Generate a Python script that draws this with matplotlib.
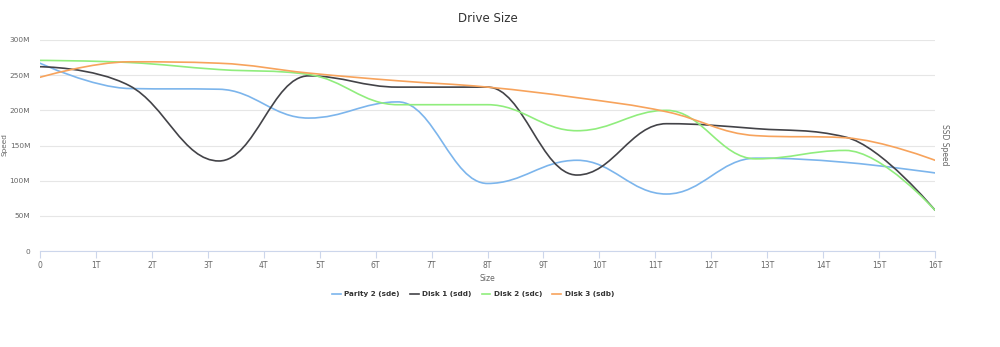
import numpy as np
import matplotlib.pyplot as plt
from matplotlib.path import Path
from matplotlib.patches import PathPatch
from matplotlib.lines import Line2D

# data (sizes in T, speeds in M)
size_t = [0, 1.6, 3.2, 4.8, 6.4, 8.0, 9.6, 11.2, 12.8, 14.4, 16.0]
parity2_sde = [267, 231, 230, 189, 212, 96, 129, 81, 132, 126, 111]
disk1_sdd = [262, 235, 128, 249, 233, 233, 108, 181, 174, 162, 58]
disk2_sdc = [271, 268, 258, 251, 208, 208, 171, 200, 131, 143, 58]
disk3_sdb = [247, 269, 267, 253, 242, 233, 218, 198, 164, 161, 129]

series_names = ['Parity 2 (sde)', 'Disk 1 (sdd)', 'Disk 2 (sdc)', 'Disk 3 (sdb)']
series_colors = ['#7cb5ec', '#434348', '#90ed7d', '#f7a35c']
x_ticks = list(range(17))
x_tick_labels = ['0'] + [f'{i}T' for i in range(1, 17)]
y_ticks = [0, 50, 100, 150, 200, 250, 300]
y_tick_labels = ['0', '50M', '100M', '150M', '200M', '250M', '300M']


def spline_path(xs, ys, smoothing=1.5):
    # highcharts-style spline: cubic bezier through every point
    n = len(xs)
    denom = smoothing + 1
    left = [(xs[i], ys[i]) for i in range(n)]
    right = [(xs[i], ys[i]) for i in range(n)]
    for i in range(1, n - 1):
        px, py = xs[i], ys[i]
        lx, ly = xs[i - 1], ys[i - 1]
        nx, ny = xs[i + 1], ys[i + 1]
        lcx = (smoothing * px + lx) / denom
        lcy = (smoothing * py + ly) / denom
        rcx = (smoothing * px + nx) / denom
        rcy = (smoothing * py + ny) / denom
        corr = (rcy - lcy) * (rcx - px) / (rcx - lcx) + py - rcy
        lcy += corr
        rcy += corr
        if lcy > ly and lcy > py:
            lcy = max(ly, py)
            rcy = 2 * py - lcy
        elif lcy < ly and lcy < py:
            lcy = min(ly, py)
            rcy = 2 * py - lcy
        if rcy > ny and rcy > py:
            rcy = max(ny, py)
            lcy = 2 * py - rcy
        elif rcy < ny and rcy < py:
            rcy = min(ny, py)
            lcy = 2 * py - rcy
        left[i] = (lcx, lcy)
        right[i] = (rcx, rcy)
    verts = [(xs[0], ys[0])]
    codes = [Path.MOVETO]
    for i in range(1, n):
        verts += [right[i - 1], left[i], (xs[i], ys[i])]
        codes += [Path.CURVE4] * 3
    return Path(verts, codes)


fig = plt.figure(figsize=(10, 3.47), dpi=100)
ax = fig.add_axes([0.04, 1 - 251 / 347, 0.895, 211 / 347])

all_series = [parity2_sde, disk1_sdd, disk2_sdc, disk3_sdb]
handles = []
for vals, name, col in zip(all_series, series_names, series_colors):
    patch = PathPatch(spline_path(size_t, vals), fill=False, edgecolor=col,
                      lw=1.2, capstyle='round', joinstyle='round', zorder=3)
    ax.add_patch(patch)
    handles.append(Line2D([], [], color=col, lw=1.2, label=name))

ax.set_xlim(0, 16)
ax.set_ylim(0, 300)
ax.set_xticks(x_ticks)
ax.set_xticklabels(x_tick_labels)
ax.set_yticks(y_ticks)
ax.set_yticklabels(y_tick_labels)
ax.grid(axis='y', color='#e6e6e6', lw=0.8)
ax.set_axisbelow(True)
for s in ['top', 'right', 'left']:
    ax.spines[s].set_visible(False)
ax.spines['bottom'].set_color('#ccd6eb')
ax.tick_params(axis='x', colors='#ccd6eb', length=5, width=0.8, labelsize=5.5,
               labelcolor='#666666', pad=2)
ax.tick_params(axis='y', length=0, labelsize=5.3, labelcolor='#666666', pad=7)

ax.set_xlabel('Size', fontsize=5.5, color='#666666', labelpad=3)
fig.text(0.0045, 1 - 145 / 347, 'Speed', rotation=90, fontsize=5.3, color='#666666',
         ha='center', va='center')
fig.text(0.944, 1 - 145 / 347, 'SSD Speed', rotation=270, fontsize=5.5, color='#666666',
         ha='center', va='center')
fig.text(0.488, 1 - 19 / 347, 'Drive Size', fontsize=8.5, color='#333333',
         ha='center', va='center')

leg = fig.legend(handles=handles, loc='center', bbox_to_anchor=(0.473, 1 - 294 / 347),
                 ncol=4, frameon=False, fontsize=5.2, handlelength=1.2,
                 handletextpad=0.5, columnspacing=1.4, labelcolor='#333333')
for t in leg.get_texts():
    t.set_fontweight('bold')

fig.savefig('out.png', dpi=100)
